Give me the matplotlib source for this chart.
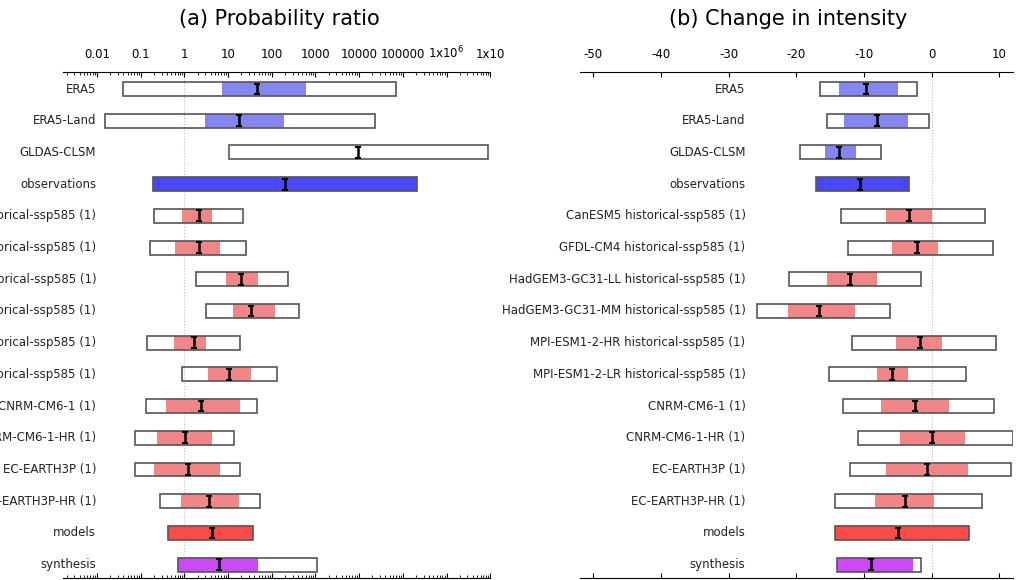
import numpy as np
import matplotlib.pyplot as plt
from matplotlib.ticker import LogLocator, NullFormatter, FixedLocator

plt.rcParams['axes.unicode_minus'] = False

labels_left = ["ERA5", "ERA5-Land", "GLDAS-CLSM", "observations",
               "CanESM5 historical-ssp585 (1)", "GFDL-CM4 historical-ssp585 (1)",
               "HadGEM3-GC31-LL historical-ssp585 (1)", "HadGEM3-GC31-MM historical-ssp585 (1)",
               "MPI-ESM1-2-HR historical-ssp585 (1)", "MPI-ESM1-2-LR historical-ssp585 (1)",
               "CNRM-CM6-1 (1)", "CNRM-CM6-1-HR (1)", "EC-EARTH3P (1)", "EC-EARTH3P-HR (1)",
               "models", "synthesis"]
labels_right = ["ERA5", "ERA5-Land", "GLDAS-CLSM", "observations",
                "CanESM5 historical-ssp585 (1)", "GFDL-CM4 historical-ssp585 (1)",
                "HadGEM3-GC31-LL historical-ssp585 (1)", "HadGEM3-GC31-MM historical-ssp585 (1)",
                "MPI-ESM1-2-HR historical-ssp585 (1)", "MPI-ESM1-2-LR historical-ssp585 (1)",
                "CNRM-CM6-1 (1)", "CNRM-CM6-1-HR (1)", "EC-EARTH3P (1)", "EC-EARTH3P-HR (1)",
                "models", "synthesis"]
kinds = ["obs", "obs", "obs", "obsall"] + ["mod"] * 10 + ["modall", "syn"]

# Probability ratio (log10 values)
pr_lo = [-1.40, -1.81, 1.03, -0.71, -0.69, -0.78, 0.27, 0.50, -0.85, -0.05, -0.87, -1.14, -1.14, -0.57, -0.37, -0.14]
pr_hi = [4.85, 4.37, 6.96, 5.33, 1.33, 1.40, 2.36, 2.63, 1.28, 2.11, 1.67, 1.14, 1.28, 1.74, 1.58, 3.04]
pr_ilo = [0.85, 0.46, None, -0.71, -0.05, -0.21, 0.94, 1.12, -0.25, 0.55, -0.43, -0.64, -0.69, -0.09, -0.37, -0.14]
pr_ihi = [2.79, 2.27, None, 5.33, 0.62, 0.82, 1.69, 2.08, 0.50, 1.53, 1.28, 0.62, 0.82, 1.24, 1.58, 1.69]
pr_best = [1.67, 1.24, 3.98, 2.31, 0.34, 0.34, 1.30, 1.53, 0.21, 1.03, 0.37, 0.02, 0.07, 0.57, 0.62, 0.78]

# Change in intensity (%)
ci_lo = [-16.5, -15.5, -19.4, -17.1, -13.4, -12.4, -21.1, -25.8, -11.8, -15.1, -13.1, -10.9, -12.0, -14.3, -14.3, -14.0]
ci_hi = [-2.2, -0.4, -7.5, -3.4, 7.8, 9.0, -1.6, -6.2, 9.5, 5.0, 9.2, 12.0, 11.7, 7.4, 5.5, -1.6]
ci_ilo = [-13.7, -12.9, -15.8, -17.1, -6.8, -5.8, -15.5, -21.3, -5.2, -8.1, -7.5, -4.7, -6.8, -8.4, -14.3, -14.0]
ci_ihi = [-5.0, -3.5, -11.2, -3.4, 0.1, 0.9, -8.1, -11.4, 1.5, -3.5, 2.5, 4.9, 5.3, 0.4, 5.5, -2.8]
ci_best = [-9.7, -8.1, -13.7, -10.6, -3.4, -2.2, -12.0, -16.7, -1.8, -5.8, -2.5, 0.0, -0.7, -4.0, -5.0, -8.9]

colors = {"obs": "#8585f2", "obsall": "#4848f8", "mod": "#f28686",
          "modall": "#ff4a4a", "syn": "#cc48f8"}

fig = plt.figure(figsize=(10.17, 5.8), dpi=100)
axL = fig.add_axes([0.062, 0.003, 0.420, 0.873])
axR = fig.add_axes([0.570, 0.003, 0.426, 0.873])

H = 0.44
n = len(labels_left)

def draw(ax, lo, hi, ilo, ihi, best, tr, labels, labx):
    for i in range(n):
        a, b = tr(lo[i]), tr(hi[i])
        if ilo[i] is not None:
            ax.fill_between([tr(ilo[i]), tr(ihi[i])], i - H / 2, i + H / 2,
                            color=colors[kinds[i]], lw=0, zorder=2)
        ax.add_patch(plt.Rectangle((a, i - H / 2), b - a, H, fill=False,
                                   ec="#555555", lw=1.2, zorder=3))
        ax.errorbar(tr(best[i]), i, yerr=0.17, fmt="none", ecolor="k",
                    capsize=2.5, elinewidth=1.8, capthick=1.5, zorder=4)
        ax.text(labx, i, labels[i], ha="right", va="center", fontsize=8.5,
                color="#222222", clip_on=False)
    ax.set_ylim(15.43, -0.54)
    ax.set_yticks([])
    for s in ["left", "right"]:
        ax.spines[s].set_visible(False)
    ax.tick_params(axis="x", top=True, bottom=True, labeltop=True,
                   labelbottom=False, direction="in", labelsize=8.5, pad=8)

p = lambda v: 10 ** v
draw(axL, pr_lo, pr_hi, pr_ilo, pr_ihi, pr_best, p, labels_left, 0.0095)
axL.set_xscale("log")
axL.set_xlim(10 ** -2.78, 1e7)
axL.axvline(1, color="#bbbbbb", ls=":", lw=0.8, zorder=1)
axL.xaxis.set_major_locator(FixedLocator([10.0 ** k for k in range(-2, 8)]))
axL.set_xticklabels(["0.01", "0.1", "1", "10", "100", "1000", "10000", "100000",
                     "1x10$^6$", "1x10"])
axL.xaxis.set_minor_locator(LogLocator(base=10, subs=np.arange(2, 10), numticks=30))
axL.xaxis.set_minor_formatter(NullFormatter())
axL.tick_params(axis="x", which="minor", top=True, bottom=True, direction="in", length=2)

q = lambda v: v
draw(axR, ci_lo, ci_hi, ci_ilo, ci_ihi, ci_best, q, labels_right, -27.5)
axR.set_xlim(-52, 12)
axR.axvline(0, color="#bbbbbb", ls=":", lw=0.8, zorder=1)
axR.set_xticks([-50, -40, -30, -20, -10, 0, 10])

fig.text(0.275, 0.968, "(a) Probability ratio", fontsize=15, ha="center", va="center")
fig.text(0.775, 0.968, "(b) Change in intensity", fontsize=15, ha="center", va="center")

fig.savefig("out.png", dpi=100)
